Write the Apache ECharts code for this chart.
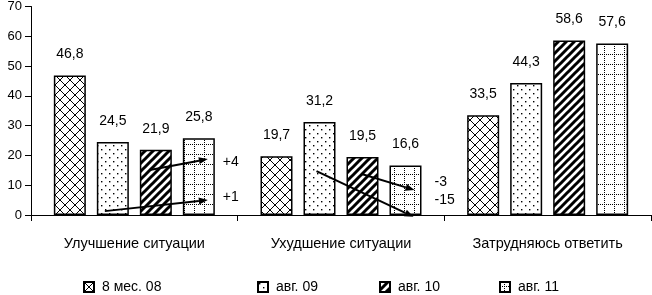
<!DOCTYPE html>
<html><head><meta charset="utf-8">
<script src="https://cdn.jsdelivr.net/npm/echarts@6/dist/echarts.min.js"></script>
<style>html,body{margin:0;padding:0;background:#fff}#c{width:652px;height:295px}</style>
</head><body><div id="c"></div>
<script>
// ---- data ----
const categories = ['Улучшение ситуации', 'Ухудшение ситуации', 'Затрудняюсь ответить'];
const seriesNames = ['8 мес. 08', 'авг. 09', 'авг. 10', 'авг. 11'];
const values08 = [46.8, 19.7, 33.5];
const values09 = [24.5, 31.2, 44.3];
const values10 = [21.9, 19.5, 58.6];
const values11 = [25.8, 16.6, 57.6];
const yMin = 0, yMax = 70, yStep = 10;
// change annotations (text)
const changeTexts = ['+4', '+1', '-3', '-15'];

// ---- patterns ----
function mk(w, h, draw) {
  const c = document.createElement('canvas'); c.width = w; c.height = h;
  const g = c.getContext('2d'); g.fillStyle = '#fff'; g.fillRect(0, 0, w, h);
  g.strokeStyle = '#000'; g.fillStyle = '#000'; draw(g, w, h); return c;
}
const pCross = mk(10, 10, (g, w, h) => {
  g.lineWidth = 1;
  g.beginPath(); g.moveTo(0, 0); g.lineTo(w, h); g.moveTo(w, 0); g.lineTo(0, h); g.stroke();
});
const pDots = mk(8, 8, (g) => { g.fillRect(1, 1, 1.4, 1.4); g.fillRect(5, 5, 1.4, 1.4); });
const pStripe = mk(8, 8, (g, w, h) => {
  g.lineWidth = 3; g.beginPath();
  g.moveTo(-2, h + 2); g.lineTo(w + 2, -2);
  g.moveTo(-2, 2); g.lineTo(2, -2);
  g.moveTo(w - 2, h + 2); g.lineTo(w + 2, h - 2); g.stroke();
});
const pGrid = mk(10, 10, (g) => {
  for (let i = 0; i < 10; i += 2) { g.fillRect(i, 4, 1, 1); g.fillRect(4, i, 1, 1); }
});
const patterns = [pCross, pDots, pStripe, pGrid];
const allValues = [values08, values09, values10, values11];

const chart = echarts.init(document.getElementById('c'), null, { renderer: 'canvas' });
const FONT = 'Liberation Sans';
const barW = 32, barGapPx = 11;

const option = {
  animation: false,
  textStyle: { fontFamily: FONT },
  grid: { left: 31, right: 1, top: 6, bottom: 80, containLabel: false },
  legend: seriesNames.map((n, i) => ({
    data: [n], left: [83, 257, 379, 499][i], top: 280, padding: 0,
    icon: 'rect', itemWidth: 10, itemHeight: 10, itemGap: 0,
    textStyle: { fontFamily: FONT, fontSize: 14, color: '#000', padding: [0, 0, 0, 3] }
  })),
  xAxis: {
    type: 'category', data: categories,
    axisLine: { lineStyle: { color: '#000', width: 1 } },
    axisTick: { show: true, length: 6, lineStyle: { color: '#000' } },
    axisLabel: { color: '#000', fontSize: 14.5, margin: 21, fontFamily: FONT }
  },
  yAxis: {
    type: 'value', min: yMin, max: yMax, interval: yStep,
    splitLine: { show: false },
    axisLine: { show: true, lineStyle: { color: '#000', width: 1 } },
    axisTick: { show: true, length: 6, lineStyle: { color: '#000' } },
    axisLabel: { color: '#000', fontSize: 13, margin: 9, fontFamily: FONT }
  },
  series: allValues.map((vals, i) => ({
    name: seriesNames[i], type: 'bar', data: vals,
    barWidth: barW, barGap: (barGapPx / barW * 100) + '%',
    itemStyle: { color: { image: patterns[i], repeat: 'repeat' }, borderColor: '#000', borderWidth: 1.5 },
    label: {
      show: true, position: 'top', distance: 14, color: '#000', fontSize: 14, fontFamily: FONT,
      formatter: p => String(p.value).replace('.', ',')
    }
  }))
};
chart.setOption(option);

// ---- arrows (in category index, bar index offset, value units) ----
const pitch = barW + barGapPx;
function barX(cat, bar, dx) {
  const c = chart.convertToPixel({ xAxisIndex: 0 }, cat);
  return c + (bar - 1.5) * pitch + dx;
}
function yPx(v) { return chart.convertToPixel({ yAxisIndex: 0 }, v); }
const arrowDefs = [
  { cat: 0, b0: 2, dx0: -6, v0: 15.1, b1: 3, dx1: 9, v1: 18.8 },
  { cat: 0, b0: 1, dx0: -8, v0: 1.3, b1: 3, dx1: 9, v1: 5.0 },
  { cat: 1, b0: 2, dx0: 0, v0: 13.7, b1: 3, dx1: 9, v1: 8.4 },
  { cat: 1, b0: 1, dx0: -3, v0: 14.7, b1: 3, dx1: 8, v1: -0.6 }
];
const textDefs = [
  { cat: 0, b: 3, dx: 24, v: 17.7 },
  { cat: 0, b: 3, dx: 24, v: 6.0 },
  { cat: 1, b: 3, dx: 29, v: 11.0 },
  { cat: 1, b: 3, dx: 29, v: 5.0 }
];
const els = [];
arrowDefs.forEach(a => {
  const x0 = barX(a.cat, a.b0, a.dx0), y0 = yPx(a.v0);
  const x1 = barX(a.cat, a.b1, a.dx1), y1 = yPx(a.v1);
  const ang = Math.atan2(y1 - y0, x1 - x0);
  const L = 9, W = 3.5;
  const bx = x1 - L * Math.cos(ang), by = y1 - L * Math.sin(ang);
  els.push({ type: 'line', shape: { x1: x0, y1: y0, x2: bx, y2: by }, style: { stroke: '#000', lineWidth: 2 }, z: 10 });
  els.push({ type: 'polygon', shape: { points: [[x1, y1], [bx - W * Math.sin(ang), by + W * Math.cos(ang)], [bx + W * Math.sin(ang), by - W * Math.cos(ang)]] }, style: { fill: '#000' }, z: 10 });
});
textDefs.forEach((t, i) => {
  els.push({ type: 'text', x: barX(t.cat, t.b, t.dx), y: yPx(t.v), style: { text: changeTexts[i], fill: '#000', font: '14px "Liberation Sans"', verticalAlign: 'middle', align: 'left' }, z: 10 });
});
chart.setOption({ graphic: { elements: els } });
</script>
</body></html>
